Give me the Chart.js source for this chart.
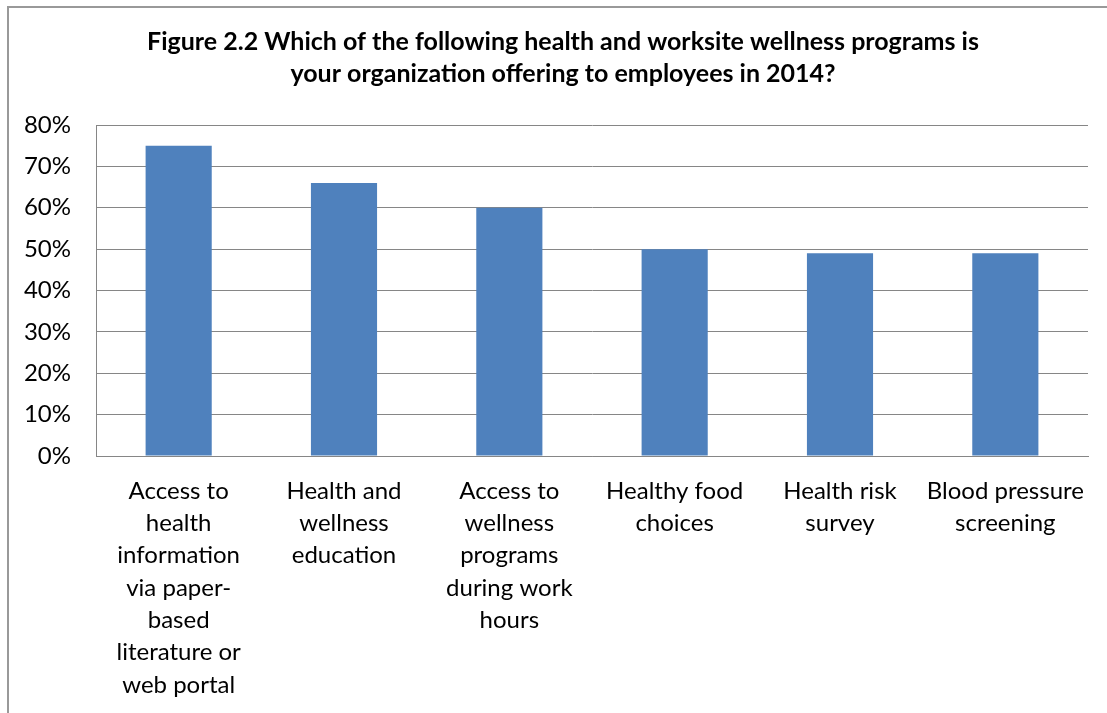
<!DOCTYPE html>
<html>
<head>
<meta charset="utf-8">
<title>Figure 2.2</title>
<script src="https://cdn.jsdelivr.net/npm/chart.js@4.4.1/dist/chart.umd.min.js"></script>
<style>
    html, body {
        margin: 0;
        padding: 0;
        background: #fff;
        overflow: hidden;
    }
    .chart-frame {
        position: absolute;
        left: 7px;
        top: 6px;
        width: 1120px;
        height: 720px;
        border-left: 2px solid #999;
        border-top: 2px solid #999;
    }
    #programsChart {
        display: block;
    }
</style>
</head>
<body>
<div class="chart-frame">
    <canvas id="programsChart" width="1108" height="706"></canvas>
</div>
<script>
// Программы здоровья, которые предлагают работодатели (2014)
const programLabels = [
    ['Access to', 'health', 'information', 'via paper-', 'based', 'literature or', 'web portal'],
    ['Health and', 'wellness', 'education'],
    ['Access to', 'wellness', 'programs', 'during work', 'hours'],
    ['Healthy food', 'choices'],
    ['Health risk', 'survey'],
    ['Blood pressure', 'screening']
];
const programShares = [75, 66, 60, 50, 49, 49];
const chartTitle = [
    'Figure 2.2 Which of the following health and worksite wellness programs is',
    'your organization offering to employees in 2014?'
];
const yMax = 80;
const yStep = 10;

const fontFamily = 'Lato, "Liberation Sans", sans-serif';
const gridColor = '#868686';

const canvas = document.getElementById('programsChart');

const programsChart = new Chart(canvas, {
    type: 'bar',
    data: {
        labels: programLabels,
        datasets: [{
            data: programShares,
            backgroundColor: '#4F81BD',
            borderWidth: 0,
            barPercentage: 0.4,
            categoryPercentage: 1
        }]
    },
    options: {
        responsive: false,
        animation: false,
        layout: {
            padding: 0
        },
        plugins: {
            legend: { display: false },
            tooltip: { enabled: false },
            title: {
                display: true,
                text: chartTitle,
                color: '#000',
                font: { family: fontFamily, size: 25, weight: 'bold', lineHeight: 1.28 },
                padding: { top: 18, bottom: 35 }
            }
        },
        scales: {
            x: {
                grid: { display: true, drawOnChartArea: false, drawTicks: false },
                border: { display: true, color: gridColor, width: 1 },
                ticks: {
                    color: '#000',
                    padding: 19,
                    maxRotation: 0,
                    autoSkip: false,
                    font: { family: fontFamily, size: 24, lineHeight: 1.345 }
                },
                afterFit: function(scale) {
                    // нижняя граница области построения на 0%
                    scale.height = 706 - (456 - 8);
                }
            },
            y: {
                min: 0,
                max: yMax,
                grid: { color: gridColor, lineWidth: 1, drawTicks: false },
                border: { display: true, color: gridColor, width: 1 },
                ticks: {
                    stepSize: yStep,
                    color: '#000',
                    padding: 25,
                    font: { family: fontFamily, size: 24 },
                    callback: function(value) {
                        return value + '%';
                    }
                },
                afterFit: function(scale) {
                    scale.width = 96 - 9;
                }
            },
            // пустая ось справа: отступ области построения, заголовок остаётся по центру рамки
            spacer: {
                position: 'right',
                grid: { display: false },
                border: { display: false },
                ticks: { display: false },
                afterFit: function(scale) {
                    scale.width = 29;
                }
            }
        }
    }
});
</script>
</body>
</html>
